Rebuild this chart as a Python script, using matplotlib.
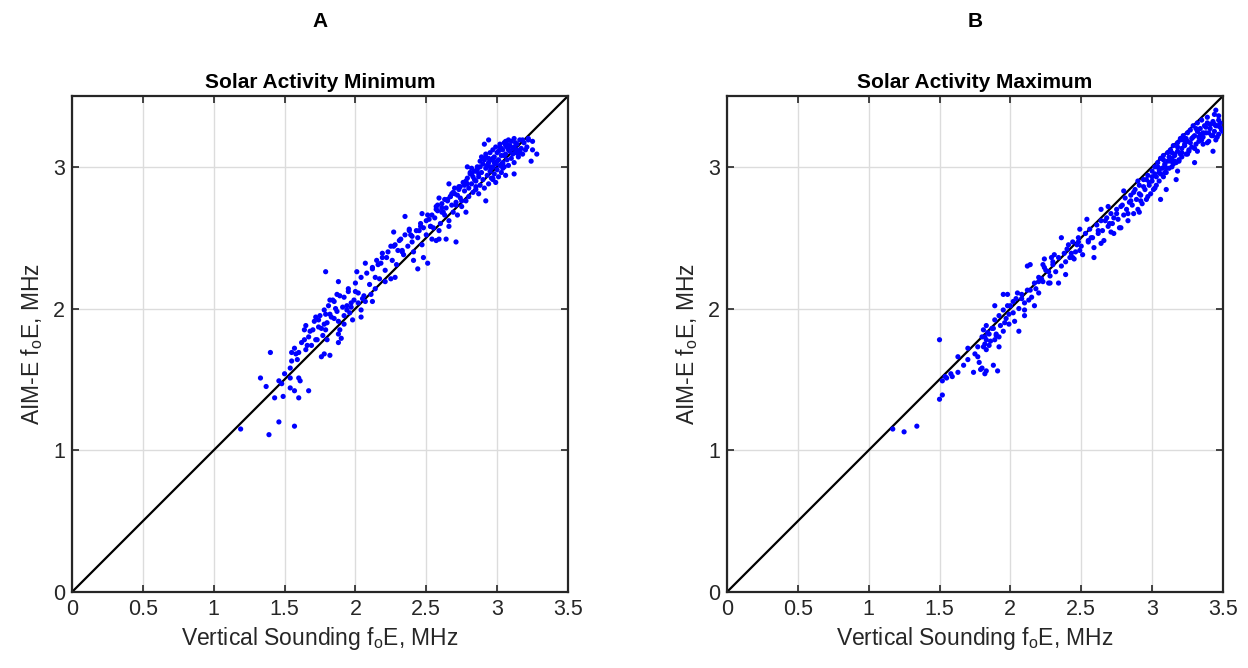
import numpy as np
import matplotlib.pyplot as plt

plt.rcParams['font.family'] = ['Liberation Sans', 'DejaVu Sans']
plt.rcParams['mathtext.fontset'] = 'custom'
plt.rcParams['mathtext.rm'] = 'Liberation Sans'
plt.rcParams['mathtext.it'] = 'Liberation Sans:italic'

# panel A - solar minimum
min_x = [1.19, 1.39, 1.46, 1.57, 1.33, 1.37, 1.40, 1.43, 1.49, 1.60, 1.67, 1.54, 1.57, 1.46,
         1.48, 1.50, 1.54, 1.60, 1.61, 1.54, 1.55, 1.59, 1.55, 1.57, 1.58, 1.60, 1.65, 1.62,
         1.64, 1.67, 1.64, 1.65, 1.68, 1.71, 1.73, 1.74, 1.76, 1.78, 1.82, 1.80, 1.72, 1.75,
         1.78, 1.79, 1.82, 1.82, 1.84, 1.87, 1.85, 1.88, 1.88, 1.90, 1.88, 1.92, 1.94, 1.94,
         1.97, 1.98, 1.99, 2.02, 2.04, 2.04, 2.05, 2.07, 2.12, 2.11, 1.95, 2.00, 1.91, 1.86,
         1.89, 1.92, 1.96, 1.77, 1.79, 1.69, 1.66, 1.79,
         1.88, 2.01, 2.07, 2.12, 2.15, 2.14, 2.19, 2.22, 2.25, 2.28, 2.27, 2.31, 2.33, 2.28,
         2.25, 2.35, 2.38, 2.40, 2.41, 2.44, 2.48, 2.51, 2.45, 2.47, 2.50, 2.53, 2.57, 2.59,
         2.64, 2.71, 2.57, 2.59, 2.61, 2.65, 2.66, 2.68, 2.71, 2.73, 2.75, 2.78, 2.79, 2.82,
         2.85, 2.87, 2.92, 2.91, 2.94, 2.97, 3.04, 3.06, 3.12, 3.18, 3.22, 3.24, 3.28, 3.25,
         3.20, 3.15, 3.25,
         2.52, 2.55, 2.58, 2.60, 2.61, 2.63, 2.64, 2.66, 2.67, 2.68, 2.69, 2.70, 2.71, 2.72,
         2.73, 2.74, 2.75, 2.76, 2.77, 2.78, 2.79, 2.80, 2.80, 2.81, 2.82, 2.83, 2.84, 2.85,
         2.85, 2.86, 2.87, 2.88, 2.88, 2.89, 2.90, 2.90, 2.91, 2.92, 2.92, 2.93, 2.94, 2.94,
         2.95, 2.95, 2.96, 2.96, 2.97, 2.97, 2.98, 2.98, 2.99, 2.99, 3.00, 3.00, 3.01, 3.01,
         3.02, 3.02, 3.03, 3.03, 3.04, 3.04, 3.05, 3.05, 3.06, 3.06, 3.07, 3.07, 3.08, 3.08,
         3.09, 3.10, 3.10, 3.11, 3.12, 3.12, 3.13, 3.14, 3.15, 3.16, 3.17, 3.18, 3.19, 3.21,
         3.22,
         2.18, 2.21, 2.23, 2.26, 2.27, 2.29, 2.30, 2.32, 2.34, 2.35, 2.37, 2.38, 2.40, 2.41,
         2.43, 2.44, 2.46, 2.47, 2.48, 2.50, 2.51, 2.53, 2.54, 2.56, 2.57, 2.59, 2.62, 2.65,
         2.66,
         1.92, 1.95, 1.97, 2.00, 2.02, 2.04, 2.06, 2.08, 2.10, 2.12, 2.14, 2.16, 2.17, 2.19,
         2.21, 1.70, 1.72, 1.74, 1.76, 1.78, 1.80, 1.81, 1.83, 1.85, 1.87, 1.89,
         2.93, 3.07, 2.86, 3.01, 2.78, 3.13, 2.97, 2.83, 3.09, 2.91, 2.74, 3.03, 2.88, 2.96,
         3.11, 2.81, 2.99, 3.05, 2.69, 2.94, 3.16, 2.87, 3.00, 2.77, 2.92, 3.08, 2.85, 2.98,
         3.14, 2.72, 2.90, 3.02, 2.84, 2.95, 3.06, 2.79, 2.63, 2.58, 2.67, 2.54, 2.46, 2.39,
         2.33, 2.61, 2.70, 3.04, 2.89, 3.12, 2.97, 2.82]
min_y = [1.15, 1.11, 1.20, 1.17, 1.51, 1.45, 1.69, 1.37, 1.38, 1.37, 1.42, 1.44, 1.42, 1.49,
         1.47, 1.54, 1.51, 1.51, 1.49, 1.58, 1.63, 1.64, 1.69, 1.72, 1.68, 1.69, 1.71, 1.76,
         1.78, 1.80, 1.85, 1.88, 1.84, 1.91, 1.78, 1.87, 1.66, 1.68, 1.67, 1.78, 1.94, 1.95,
         1.89, 1.96, 1.96, 2.06, 2.06, 2.10, 1.93, 1.91, 1.76, 1.79, 1.82, 1.95, 1.99, 2.02,
         2.04, 1.92, 2.06, 2.04, 1.99, 1.94, 2.07, 2.05, 2.05, 2.10, 2.12, 2.12, 2.01, 2.00,
         1.85, 1.89, 1.97, 1.81, 1.85, 1.74, 1.74, 2.26,
         2.19, 2.26, 2.32, 2.29, 2.34, 2.22, 2.39, 2.36, 2.44, 2.45, 2.54, 2.48, 2.41, 2.22,
         2.21, 2.65, 2.55, 2.51, 2.34, 2.28, 2.36, 2.32, 2.55, 2.67, 2.62, 2.58, 2.48, 2.49,
         2.49, 2.47, 2.72, 2.78, 2.68, 2.76, 2.88, 2.81, 2.73, 2.84, 2.76, 2.68, 3.00, 2.95,
         2.86, 2.81, 2.76, 3.16, 3.19, 2.91, 3.02, 3.18, 2.95, 3.19, 3.20, 3.04, 3.09, 3.12,
         3.12, 3.09, 3.18,
         2.63, 2.57, 2.69, 2.60, 2.74, 2.66, 2.71, 2.62, 2.79, 2.73, 2.68, 2.81, 2.75, 2.66,
         2.86, 2.78, 2.72, 2.89, 2.83, 2.76, 2.92, 2.85, 2.79, 2.95, 2.88, 2.82, 2.97, 2.90,
         2.84, 3.00, 2.93, 2.87, 3.04, 2.96, 2.91, 3.02, 2.85, 2.99, 3.07, 2.94, 3.03, 2.88,
         3.10, 2.97, 3.05, 2.92, 3.00, 3.12, 2.95, 3.07, 3.02, 2.89, 3.10, 2.98, 3.05, 2.93,
         3.14, 3.01, 3.08, 2.96, 3.12, 3.03, 3.17, 3.00, 3.09, 2.94, 3.14, 3.05, 3.19, 3.01,
         3.11, 3.06, 3.18, 3.13, 3.03, 3.20, 3.10, 3.16, 3.07, 3.19, 3.13, 3.09, 3.17, 3.14,
         3.19,
         2.32, 2.27, 2.40, 2.34, 2.44, 2.31, 2.41, 2.49, 2.38, 2.52, 2.44, 2.56, 2.47, 2.40,
         2.55, 2.50, 2.60, 2.45, 2.57, 2.52, 2.66, 2.58, 2.49, 2.64, 2.70, 2.55, 2.68, 2.77,
         2.58,
         2.08, 2.14, 2.01, 2.18, 2.11, 2.22, 2.09, 2.25, 2.17, 2.28, 2.14, 2.31, 2.21, 2.36,
         2.19, 1.85, 1.78, 1.92, 1.86, 1.99, 1.90, 2.02, 1.94, 2.05, 1.98, 2.09,
         3.01, 3.16, 2.98, 3.11, 2.90, 3.17, 3.06, 2.93, 3.15, 3.05, 2.86, 3.13, 3.00, 2.99,
         3.09, 2.96, 3.14, 3.08, 2.82, 3.06, 3.11, 2.95, 3.04, 2.87, 3.09, 3.12, 2.97, 3.03,
         3.12, 2.80, 3.06, 3.16, 2.91, 3.00, 3.15, 2.88, 2.77, 2.73, 2.79, 2.66, 2.58, 2.52,
         2.40, 2.71, 2.85, 2.99, 3.07, 3.14, 2.92, 2.99]

# panel B - solar maximum
max_x = [1.17, 1.25, 1.34, 1.50, 1.50, 1.52, 1.52, 1.55, 1.54, 1.58, 1.59, 1.63, 1.67, 1.63,
         1.70, 1.70, 1.74, 1.75, 1.77, 1.78, 1.80, 1.82, 1.83, 1.79, 1.81, 1.77, 1.83, 1.85,
         1.83, 1.82, 1.85, 1.81, 1.83, 1.87, 1.88, 1.91, 1.89, 1.92, 1.92, 1.90, 1.89, 1.89,
         1.92, 1.95, 1.96, 1.98, 1.99, 2.03, 2.06, 2.02, 2.05, 2.08, 2.10, 2.10, 2.13, 2.17,
         2.14, 2.17, 2.20, 2.20, 2.22, 1.95, 1.98, 2.14, 2.24, 2.28, 2.27, 2.30, 2.24, 2.31,
         2.12, 2.36, 2.39, 2.34, 2.27, 2.23, 2.29, 2.44, 2.49, 2.54, 2.59, 2.64, 2.57, 2.64,
         2.69, 2.71, 2.73, 2.78, 2.80, 2.83, 2.91, 2.85, 2.90, 2.92, 2.97, 3.02, 3.06, 3.10,
         3.17, 3.18, 3.20, 3.30, 3.36, 3.41, 3.44, 3.50, 3.46, 3.43, 3.39, 3.32, 3.25, 3.16,
         3.09, 3.04,
         2.40, 2.42, 2.44, 2.46, 2.48, 2.50, 2.51, 2.53, 2.55, 2.56, 2.58, 2.59, 2.61, 2.62,
         2.64, 2.65, 2.66, 2.68, 2.69, 2.71, 2.72, 2.73, 2.75, 2.76, 2.77, 2.79, 2.80, 2.81,
         2.82, 2.83, 2.85, 2.86, 2.87, 2.88, 2.89, 2.90, 2.91, 2.92, 2.93, 2.94, 2.95, 2.96,
         2.97, 2.98, 2.99, 3.00, 3.00, 3.01, 3.02, 3.03, 3.03, 3.04, 3.05, 3.05, 3.06, 3.07,
         3.08, 3.08, 3.09, 3.10, 3.11, 3.11, 3.12, 3.13, 3.14, 3.14, 3.15, 3.16, 3.17, 3.18,
         3.18, 3.19, 3.20, 3.21, 3.21, 3.22, 3.23, 3.24, 3.25, 3.25, 3.26, 3.27, 3.28, 3.28,
         3.29, 3.30, 3.31, 3.32, 3.32, 3.33, 3.34, 3.35, 3.36, 3.37, 3.38, 3.39, 3.40, 3.41,
         3.42, 3.43, 3.44, 3.45, 3.46, 3.47, 3.48, 3.49, 3.47, 3.45,
         2.20, 2.23, 2.25, 2.28, 2.30, 2.32, 2.34, 2.36, 2.38, 2.39, 2.41, 2.43, 2.45, 2.47,
         2.49, 2.00, 2.02, 2.04, 2.06, 2.08, 2.10, 2.12, 2.15, 2.18,
         1.80, 1.82, 1.84, 1.86, 1.88, 1.90, 1.93, 1.95, 1.97, 1.99,
         3.13, 3.27, 3.06, 3.38, 3.21, 2.98, 3.33, 3.16, 3.44, 3.09, 3.24, 2.94, 3.36, 3.19,
         3.02, 3.41, 3.29, 3.12, 2.87, 3.47, 3.23, 3.05, 3.35, 3.15, 2.91, 3.31, 3.18, 3.43,
         3.26, 2.84, 3.08, 3.39, 3.20, 2.78, 3.00, 3.34, 3.45, 3.10, 2.70, 2.62, 2.55, 2.67,
         2.75, 2.48, 3.48, 3.22, 3.30, 2.96, 3.14, 3.40]
max_y = [1.15, 1.13, 1.17, 1.78, 1.36, 1.39, 1.49, 1.51, 1.52, 1.54, 1.52, 1.55, 1.60, 1.66,
         1.64, 1.72, 1.55, 1.68, 1.66, 1.62, 1.58, 1.54, 1.56, 1.57, 1.73, 1.73, 1.71, 1.74,
         1.78, 1.80, 1.82, 1.85, 1.88, 1.86, 1.60, 1.56, 1.78, 1.73, 1.80, 1.82, 1.92, 2.02,
         1.95, 1.99, 1.90, 2.02, 1.96, 1.91, 1.84, 2.05, 2.11, 2.07, 1.95, 1.99, 2.06, 2.02,
         2.13, 2.18, 2.11, 2.19, 2.21, 2.10, 2.10, 2.31, 2.29, 2.18, 2.26, 2.31, 2.35, 2.38,
         2.30, 2.50, 2.24, 2.18, 2.18, 2.31, 2.36, 2.36, 2.56, 2.63, 2.36, 2.46, 2.50, 2.70,
         2.72, 2.54, 2.64, 2.57, 2.83, 2.67, 2.68, 2.76, 2.90, 2.76, 2.79, 2.85, 2.77, 2.84,
         2.91, 2.97, 3.20, 3.03, 3.16, 3.30, 3.37, 3.25, 3.21, 3.11, 3.17, 3.11, 3.09, 3.04,
         2.96, 3.00,
         2.42, 2.36, 2.47, 2.40, 2.50, 2.44, 2.38, 2.53, 2.47, 2.56, 2.50, 2.43, 2.59, 2.53,
         2.62, 2.55, 2.48, 2.64, 2.58, 2.67, 2.60, 2.53, 2.70, 2.63, 2.57, 2.73, 2.66, 2.78,
         2.70, 2.62, 2.80, 2.73, 2.67, 2.84, 2.77, 2.70, 2.87, 2.80, 2.74, 2.91, 2.84, 2.77,
         2.94, 2.87, 2.81, 2.97, 2.90, 2.84, 3.00, 2.93, 2.87, 3.03, 2.96, 2.90, 3.06, 2.99,
         2.93, 3.08, 3.02, 2.96, 3.10, 3.04, 2.99, 3.12, 3.06, 3.00, 3.15, 3.09, 3.03, 3.17,
         3.11, 3.05, 3.19, 3.13, 3.07, 3.22, 3.15, 3.09, 3.24, 3.18, 3.12, 3.26, 3.20, 3.14,
         3.29, 3.22, 3.16, 3.31, 3.25, 3.18, 3.27, 3.33, 3.21, 3.29, 3.24, 3.35, 3.18, 3.27,
         3.22, 3.32, 3.25, 3.19, 3.29, 3.23, 3.31, 3.26, 3.36, 3.40,
         2.22, 2.19, 2.27, 2.23, 2.33, 2.26, 2.36, 2.30, 2.39, 2.33, 2.45, 2.39, 2.35, 2.45,
         2.41, 2.02, 1.97, 2.07, 2.00, 2.10, 2.04, 2.13, 2.08, 2.14,
         1.80, 1.75, 1.83, 1.77, 1.86, 1.81, 1.88, 1.84, 1.93, 1.89,
         3.04, 3.17, 2.95, 3.28, 3.10, 2.89, 3.21, 3.08, 3.30, 3.01, 3.20, 2.86, 3.24, 3.04,
         2.95, 3.30, 3.21, 3.07, 2.82, 3.33, 3.16, 2.98, 3.19, 3.02, 2.81, 3.27, 3.14, 3.22,
         3.11, 2.75, 3.05, 3.31, 3.09, 2.72, 2.93, 3.23, 3.29, 2.99, 2.60, 2.55, 2.48, 2.62,
         2.67, 2.47, 3.28, 3.19, 3.13, 2.91, 3.10, 3.24]

panels = [('A', 'Solar Activity Minimum', min_x, min_y),
          ('B', 'Solar Activity Maximum', max_x, max_y)]
ticks_x = [0, 0.5, 1, 1.5, 2, 2.5, 3, 3.5]
ticks_y = [0, 1, 2, 3]
label_col = '#262626'

fig = plt.figure(figsize=(12.48, 6.68), dpi=100)
lefts = [0.0577, 0.5825]

for left, (letter, title, xs, ys) in zip(lefts, panels):
    ax = fig.add_axes([left, 0.1138, 0.3974, 0.7425])
    ax.plot([0, 3.5], [0, 3.5], color='black', lw=1.6, zorder=2)
    ax.scatter(xs, ys, s=14, color='#0000ff', edgecolors='none', zorder=3)
    ax.set_xlim(0, 3.5)
    ax.set_ylim(0, 3.5)
    ax.set_xticks(ticks_x)
    ax.set_xticklabels(['0', '0.5', '1', '1.5', '2', '2.5', '3', '3.5'])
    ax.set_yticks(ticks_y)
    ax.grid(True, color='#dcdcdc', lw=1.0)
    ax.set_axisbelow(True)
    ax.tick_params(direction='in', length=5, width=1.2, top=True, right=True,
                   labelsize=15.5, labelcolor=label_col, color='#262626', pad=5)
    for sp in ax.spines.values():
        sp.set_linewidth(1.6)
        sp.set_color('#262626')
    ax.set_xlabel('Vertical Sounding f$_\\mathrm{o}$E, MHz', fontsize=16.5,
                  color=label_col, labelpad=4)
    ax.set_ylabel('AIM-E f$_\\mathrm{o}$E, MHz', fontsize=16.5, color=label_col, labelpad=6)
    ax.set_title(title, fontsize=15, fontweight='bold', pad=6)
    ax.text(0.5, 1.15, letter, transform=ax.transAxes, ha='center', va='center',
            fontsize=15, fontweight='bold')

fig.savefig('out.png', dpi=100)
